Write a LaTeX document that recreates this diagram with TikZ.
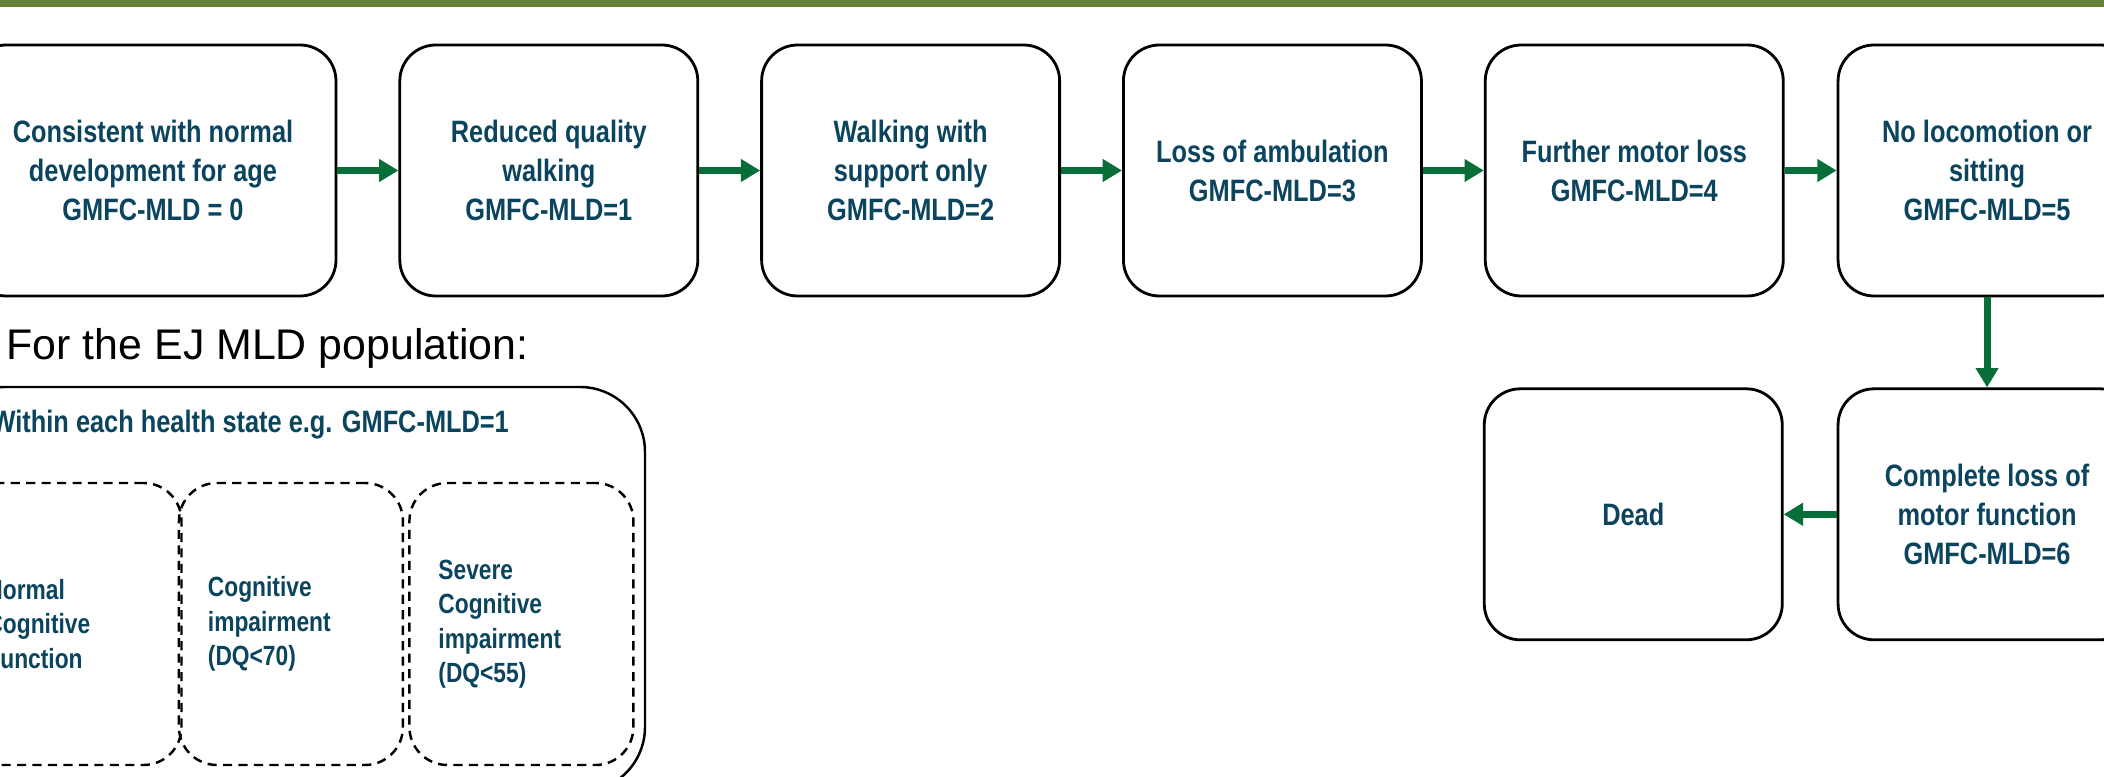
\documentclass[tikz,border=0pt]{standalone}
\usepackage{fontspec}
\setmainfont{Liberation Sans}
\newfontfamily\narrowfont[FakeStretch=0.82]{Liberation Sans}
\usetikzlibrary{positioning, arrows.meta}
\definecolor{gmfctext}{RGB}{10,68,94}
\definecolor{flowgreen}{RGB}{8,110,55}
\definecolor{bargreen}{RGB}{102,128,58}

\begin{document}
\begin{tikzpicture}[>={Triangle[length=5.5pt,width=6.2pt]},
    health/.style={draw, line width=0.8pt, rounded corners=0.36cm, minimum width=2.98cm, minimum height=2.51cm, inner sep=0pt, align=center, text=gmfctext, font=\narrowfont\bfseries\fontsize{8.8}{11.1}\selectfont},
    cog/.style={draw, dash pattern=on 2.6pt off 1.8pt, line width=0.7pt, rounded corners=0.38cm, minimum width=2.24cm, minimum height=2.82cm, text width=1.66cm, inner xsep=0.29cm, align=left, text=gmfctext, font=\narrowfont\bfseries\fontsize{7.9}{9.8}\selectfont},
    flow/.style={->, line width=2pt, flowgreen}]
    \useasboundingbox (0,0) rectangle (21.04,-7.77);
    \clip (0,0) rectangle (21.04,-7.77);
    \fill[bargreen] (0,0) rectangle (21.04,-0.075);

    \node[health, minimum width=3.66cm] at (1.53,-1.705) (gmfc0) {Consistent with normal\\development for age\\GMFC-MLD = 0};
    \node[health, right=0.61cm of gmfc0] (gmfc1) {Reduced quality\\walking\\GMFC-MLD=1};
    \node[health, right=0.61cm of gmfc1] (gmfc2) {Walking with\\support only\\GMFC-MLD=2};
    \node[health, right=0.61cm of gmfc2] (gmfc3) {Loss of ambulation\\GMFC-MLD=3};
    \node[health, right=0.61cm of gmfc3] (gmfc4) {Further motor loss\\GMFC-MLD=4};
    \node[health, right=0.52cm of gmfc4] (gmfc5) {No locomotion or\\sitting\\GMFC-MLD=5};
    \node[health, below=0.9cm of gmfc5] (gmfc6) {Complete loss of\\motor function\\GMFC-MLD=6};
    \node[health, left=0.53cm of gmfc6] (dead) {Dead};

    \foreach \from/\to in {gmfc0/gmfc1, gmfc1/gmfc2, gmfc2/gmfc3, gmfc3/gmfc4, gmfc4/gmfc5, gmfc5/gmfc6, gmfc6/dead} {
        \draw[flow] (\from) -- (\to);
    };

    \node[anchor=base west, inner sep=0pt, font=\fontsize{12.2}{14}\selectfont] at (0.06,-3.6) (population) {For the EJ MLD population:};
    \node[draw, line width=0.7pt, rounded corners=0.65cm, minimum width=7.05cm, minimum height=4.05cm] at (2.925,-5.895) (cogframe) {};
    \node[anchor=base west, inner sep=0pt, text=gmfctext, font=\narrowfont\bfseries\fontsize{8.8}{11.1}\selectfont] at (-0.09,-4.33) (within) {Within each health state e.g. GMFC-MLD=1};

    \node[cog] at (0.695,-6.24) (normal) {Normal\\Cognitive\\Function};
    \node[cog, right=-0.05cm of normal] (impair) {Cognitive\\impairment\\(DQ<70)};
    \node[cog, right=0.04cm of impair] (severe) {Severe\\Cognitive\\impairment\\(DQ<55)};
\end{tikzpicture}
\end{document}
